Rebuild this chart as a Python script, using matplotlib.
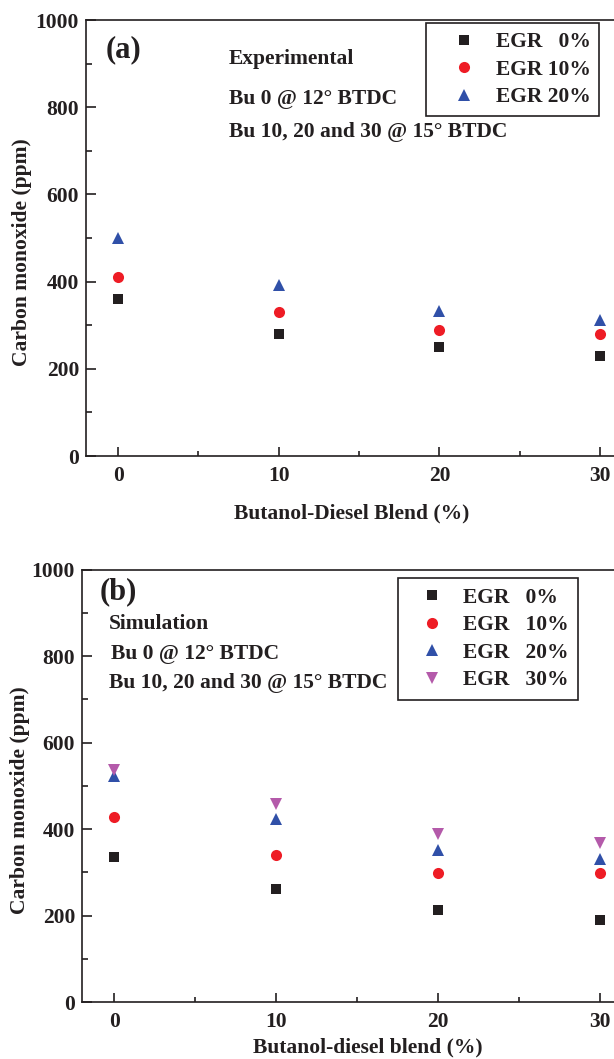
import matplotlib
matplotlib.use("Agg")
import matplotlib.pyplot as plt
from matplotlib.ticker import MultipleLocator

# Butanol blend (%)
blend = [0, 10, 20, 30]

# (a) experimental CO (ppm)
exp_egr0 = [360, 280, 250, 230]
exp_egr10 = [410, 330, 290, 280]
exp_egr20 = [501, 392, 332, 311]

# (b) simulation CO (ppm)
sim_egr0 = [335, 262, 212, 190]
sim_egr10 = [429, 339, 299, 299]
sim_egr20 = [522, 423, 351, 331]
sim_egr30 = [537, 459, 388, 368]

labels_a = ["EGR   0%", "EGR 10%", "EGR 20%"]
labels_b = ["EGR   0%", "EGR   10%", "EGR   20%", "EGR   30%"]

INK = "#231f20"
C_BLACK = "#231f20"
C_RED = "#ee1c25"
C_BLUE = "#3050a8"
C_PURPLE = "#b45aaa"
FS = 15.5

plt.rcParams["font.family"] = "serif"
plt.rcParams["font.serif"] = ["Liberation Serif", "DejaVu Serif"]
plt.rcParams["font.weight"] = "bold"
plt.rcParams["text.color"] = INK
plt.rcParams["axes.labelcolor"] = INK
plt.rcParams["axes.labelweight"] = "bold"

W, H = 614, 1059
fig = plt.figure(figsize=(W / 100, H / 100), dpi=100)

ax_a = fig.add_axes([86 / W, 1 - 456 / H, 531 / W, 436 / H])
ax_b = fig.add_axes([82 / W, 1 - 1002 / H, 535 / W, 432.4 / H])


def style_axes(ax):
    ax.set_xlim(-2, 31.05)
    ax.set_ylim(0, 1000)
    ax.xaxis.set_major_locator(MultipleLocator(10))
    ax.xaxis.set_minor_locator(MultipleLocator(5))
    ax.yaxis.set_major_locator(MultipleLocator(200))
    ax.yaxis.set_minor_locator(MultipleLocator(100))
    for s in ax.spines.values():
        s.set_linewidth(1.2)
        s.set_color(INK)
    ax.tick_params(which="both", direction="in", top=False, right=False,
                   width=1.2, color=INK, labelcolor=INK, labelsize=FS)
    ax.tick_params(axis="y", which="major", length=7, pad=5)
    ax.tick_params(axis="y", which="minor", length=4)
    ax.tick_params(axis="x", which="major", length=6.5, pad=7)
    ax.tick_params(axis="x", which="minor", length=3.5)
    for lab in ax.get_xticklabels() + ax.get_yticklabels():
        lab.set_fontweight("bold")


def add_legend(ax, anchor, pad, hl, htp, spacing):
    leg = ax.legend(loc="upper left", bbox_to_anchor=anchor, numpoints=1,
                    fancybox=False, framealpha=1, edgecolor=INK,
                    prop={"size": FS, "weight": "bold"},
                    borderpad=pad, handlelength=hl, handletextpad=htp,
                    labelspacing=spacing, borderaxespad=0)
    leg.get_frame().set_linewidth(1.2)
    return leg


# (a) Experimental
style_axes(ax_a)
ax_a.plot(blend, exp_egr0, "s", color=C_BLACK, ms=7.2, mew=0, label=labels_a[0])
ax_a.plot(blend, exp_egr10, "o", color=C_RED, ms=8, mew=0, label=labels_a[1])
ax_a.plot(blend, exp_egr20, "^", color=C_BLUE, ms=8.6, mew=0, label=labels_a[2])
ax_a.set_xlabel("Butanol-Diesel Blend (%)", fontsize=FS, fontweight="bold")
ax_a.set_ylabel("Carbon monoxide (ppm)", fontsize=FS, fontweight="bold")
ax_a.xaxis.set_label_coords(0.501, -0.131)
ax_a.xaxis.label.set_va("center")
ax_a.yaxis.set_label_coords(-0.12, 0.468)
ax_a.yaxis.label.set_va("center")
ax_a.text(0.0377, 0.931, "(a)", transform=ax_a.transAxes, fontsize=22,
          fontweight="bold", va="center", ha="left")
ax_a.text(0.269, 0.9106, "Experimental", transform=ax_a.transAxes,
          fontsize=FS, fontweight="bold", va="center", ha="left")
ax_a.text(0.269, 0.819, "Bu 0 @ 12° BTDC", transform=ax_a.transAxes,
          fontsize=FS, fontweight="bold", va="center", ha="left")
ax_a.text(0.269, 0.743, "Bu 10, 20 and 30 @ 15° BTDC", transform=ax_a.transAxes,
          fontsize=FS, fontweight="bold", va="center", ha="left")
add_legend(ax_a, (0.6403, 0.992), 0.4, 2.73, 0.1, 0.35)

# (b) Simulation
style_axes(ax_b)
ax_b.plot(blend, sim_egr0, "s", color=C_BLACK, ms=7.2, mew=0, label=labels_b[0])
ax_b.plot(blend, sim_egr10, "o", color=C_RED, ms=8, mew=0, label=labels_b[1])
ax_b.plot(blend, sim_egr20, "^", color=C_BLUE, ms=8.6, mew=0, label=labels_b[2])
ax_b.plot(blend, sim_egr30, "v", color=C_PURPLE, ms=8.6, mew=0, label=labels_b[3])
ax_b.set_xlabel("Butanol-diesel blend (%)", fontsize=FS, fontweight="bold")
ax_b.set_ylabel("Carbon monoxide (ppm)", fontsize=FS, fontweight="bold")
ax_b.xaxis.set_label_coords(0.534, -0.106)
ax_b.xaxis.label.set_va("center")
ax_b.yaxis.set_label_coords(-0.116, 0.467)
ax_b.yaxis.label.set_va("center")
ax_b.text(0.0336, 0.949, "(b)", transform=ax_b.transAxes, fontsize=22,
          fontweight="bold", va="center", ha="left")
ax_b.text(0.0505, 0.874, "Simulation", transform=ax_b.transAxes,
          fontsize=FS, fontweight="bold", va="center", ha="left")
ax_b.text(0.054, 0.805, "Bu 0 @ 12° BTDC", transform=ax_b.transAxes,
          fontsize=FS, fontweight="bold", va="center", ha="left")
ax_b.text(0.0505, 0.738, "Bu 10, 20 and 30 @ 15° BTDC", transform=ax_b.transAxes,
          fontsize=FS, fontweight="bold", va="center", ha="left")
add_legend(ax_b, (0.590, 0.981), 0.45, 2.26, 0.33, 0.35)

fig.savefig("out.png", dpi=100)
